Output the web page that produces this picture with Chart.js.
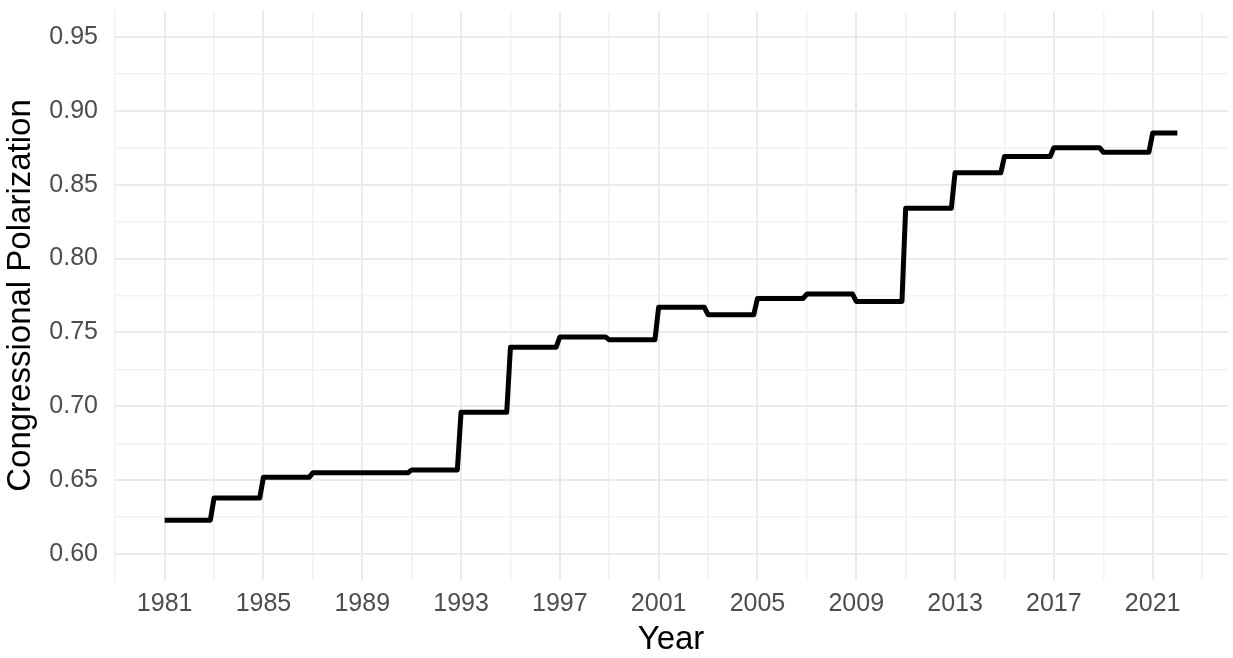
<!DOCTYPE html>
<html>
<head>
<meta charset="utf-8">
<title>Congressional Polarization</title>
<script src="https://cdn.jsdelivr.net/npm/chart.js@4.4.1/dist/chart.umd.min.js"></script>
<style>
  html, body { margin: 0; padding: 0; background: #fff; }
</style>
</head>
<body>
<canvas id="polarization-chart" width="1233" height="658"></canvas>
<script>
// first year of each Congress and its polarization score
var congressStart = [1981, 1983, 1985, 1987, 1989, 1991, 1993, 1995, 1997, 1999, 2001,
                     2003, 2005, 2007, 2009, 2011, 2013, 2015, 2017, 2019, 2021];
var polarization = [0.623, 0.638, 0.652, 0.655, 0.655, 0.657, 0.696, 0.740, 0.747, 0.745, 0.767,
                    0.762, 0.773, 0.776, 0.771, 0.834, 0.858, 0.869, 0.875, 0.872, 0.885];
var lastYear = 2022;

// axis breaks
var xMajor = [1981, 1985, 1989, 1993, 1997, 2001, 2005, 2009, 2013, 2017, 2021];
var xMinor = [1979, 1983, 1987, 1991, 1995, 1999, 2003, 2007, 2011, 2015, 2019, 2023];
var yMajor = [0.60, 0.65, 0.70, 0.75, 0.80, 0.85, 0.90, 0.95];
var yMinor = [0.625, 0.675, 0.725, 0.775, 0.825, 0.875, 0.925];

// each congress holds its score until just before the next one starts
var points = [];
for (var i = 0; i < congressStart.length; i++) {
  var end = i < congressStart.length - 1 ? congressStart[i + 1] - 0.15 : lastYear;
  points.push({x: congressStart[i], y: polarization[i]});
  points.push({x: end, y: polarization[i]});
}

function isMajor(list, v) {
  return list.some(function (m) { return Math.abs(m - v) < 1e-6; });
}

Chart.defaults.font.family = '"Liberation Sans", Arial, sans-serif';

var xTicks = xMajor.concat(xMinor).sort(function (a, b) { return a - b; });
var yTicks = yMajor.concat(yMinor).sort(function (a, b) { return a - b; });

var polarizationChart = new Chart(document.getElementById('polarization-chart').getContext('2d'), {
  type: 'line',
  data: {
    datasets: [{
      data: points,
      borderColor: '#000',
      borderWidth: 5,
      pointRadius: 0,
      tension: 0,
      fill: false,
      borderJoinStyle: 'round',
      borderCapStyle: 'butt'
    }]
  },
  options: {
    responsive: false,
    animation: false,
    layout: { padding: { top: 11, right: 5, left: 3, bottom: 0 } },
    plugins: {
      legend: { display: false },
      tooltip: { enabled: false }
    },
    scales: {
      x: {
        type: 'linear',
        min: 1978.95,
        max: 2024.05,
        afterBuildTicks: function (s) {
          s.ticks = xTicks.map(function (v) { return {value: v}; });
        },
        afterFit: function (s) {
          s.height = 78;
          s.paddingLeft = 0;
          s.paddingRight = 0;
        },
        ticks: {
          autoSkip: false,
          maxRotation: 0,
          color: '#4d4d4d',
          font: { size: 25 },
          padding: 9,
          callback: function (v) { return isMajor(xMajor, v) ? String(v) : ''; }
        },
        grid: {
          drawTicks: false,
          color: function (c) { return isMajor(xMajor, c.tick.value) ? '#ebebeb' : '#f2f2f2'; },
          lineWidth: function (c) { return isMajor(xMajor, c.tick.value) ? 2 : 1.5; }
        },
        border: { display: false },
        title: {
          display: true,
          text: 'Year',
          color: '#000',
          font: { size: 33, lineHeight: 1.1 },
          padding: { top: 0, bottom: 0 }
        }
      },
      y: {
        type: 'linear',
        min: 0.5825,
        max: 0.9675,
        afterBuildTicks: function (s) {
          s.ticks = yTicks.map(function (v) { return {value: v}; });
        },
        afterFit: function (s) {
          s.width = 111;
          s.paddingTop = 0;
          s.paddingBottom = 0;
        },
        ticks: {
          autoSkip: false,
          color: '#4d4d4d',
          font: { size: 25 },
          padding: 16,
          callback: function (v) { return isMajor(yMajor, v) ? v.toFixed(2) : ''; }
        },
        grid: {
          drawTicks: false,
          color: function (c) { return isMajor(yMajor, c.tick.value) ? '#ebebeb' : '#f2f2f2'; },
          lineWidth: function (c) { return isMajor(yMajor, c.tick.value) ? 2 : 1.5; }
        },
        border: { display: false },
        title: {
          display: true,
          text: 'Congressional Polarization',
          color: '#000',
          font: { size: 33, lineHeight: 1.1 },
          padding: { top: 0, bottom: 0 }
        }
      }
    }
  }
});
</script>
</body>
</html>
